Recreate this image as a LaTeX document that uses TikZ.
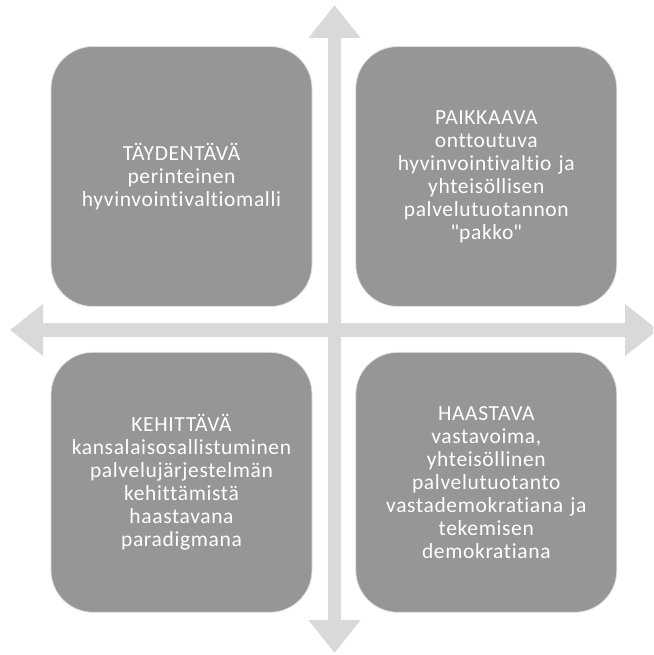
\documentclass[tikz,border=0pt]{standalone}
\usepackage{fontspec}
\setmainfont{Carlito}[Ligatures={NoCommon},LetterSpace=3]
\usetikzlibrary{positioning}
\usetikzlibrary{arrows.meta}
\definecolor{boxgray}{RGB}{150,150,150}
\definecolor{axisgray}{RGB}{217,217,217}
\definecolor{rimgray}{RGB}{225,225,225}
\tikzset{
quadrant/.style={draw=rimgray,line width=0.8pt,fill=boxgray,rectangle,rounded corners=42pt,
  minimum width=261pt,minimum height=260pt,text width=250pt,align=center,
  text=white,font=\fontsize{21.5}{23}\selectfont},
axis arrow/.style={draw=axisgray,line width=13.5pt,
  {Triangle[length=33pt,width=50pt]}-{Triangle[length=33pt,width=50pt]}},
}
\begin{document}
\begin{tikzpicture}[x=1pt,y=-1pt,node distance=43pt and 45pt]
\useasboundingbox (0,0) rectangle (653,655);
\clip (0,0) rectangle (653,655);
% axes
\coordinate (west)  at (10,330);
\coordinate (east)  at (658,330);
\coordinate (north) at (334.5,5);
\coordinate (south) at (334.5,653);
\draw[axis arrow] (west) -- (east);
\draw[axis arrow] (north) -- (south);
% quadrants
\node[quadrant] (tl) at (181.5,176.5) {TÄYDENTÄVÄ\\perinteinen\\hyvinvointivaltiomalli};
\node[quadrant] (tr) [right=43pt of tl] {PAIKKAAVA\\onttoutuva\\hyvinvointivaltio ja\\yhteisöllisen\\palvelutuotannon\\\textquotedbl pakko\textquotedbl};
\node[quadrant] (bl) [below=45pt of tl] {KEHITTÄVÄ\\kansalaisosallistuminen\\palvelujärjestelmän\\kehittämistä\\haastavana\\paradigmana};
\node[quadrant] (br) [right=43pt of bl] {HAASTAVA\\vastavoima,\\yhteisöllinen\\palvelutuotanto\\vastademokratiana ja\\tekemisen\\demokratiana};
\end{tikzpicture}
\end{document}
